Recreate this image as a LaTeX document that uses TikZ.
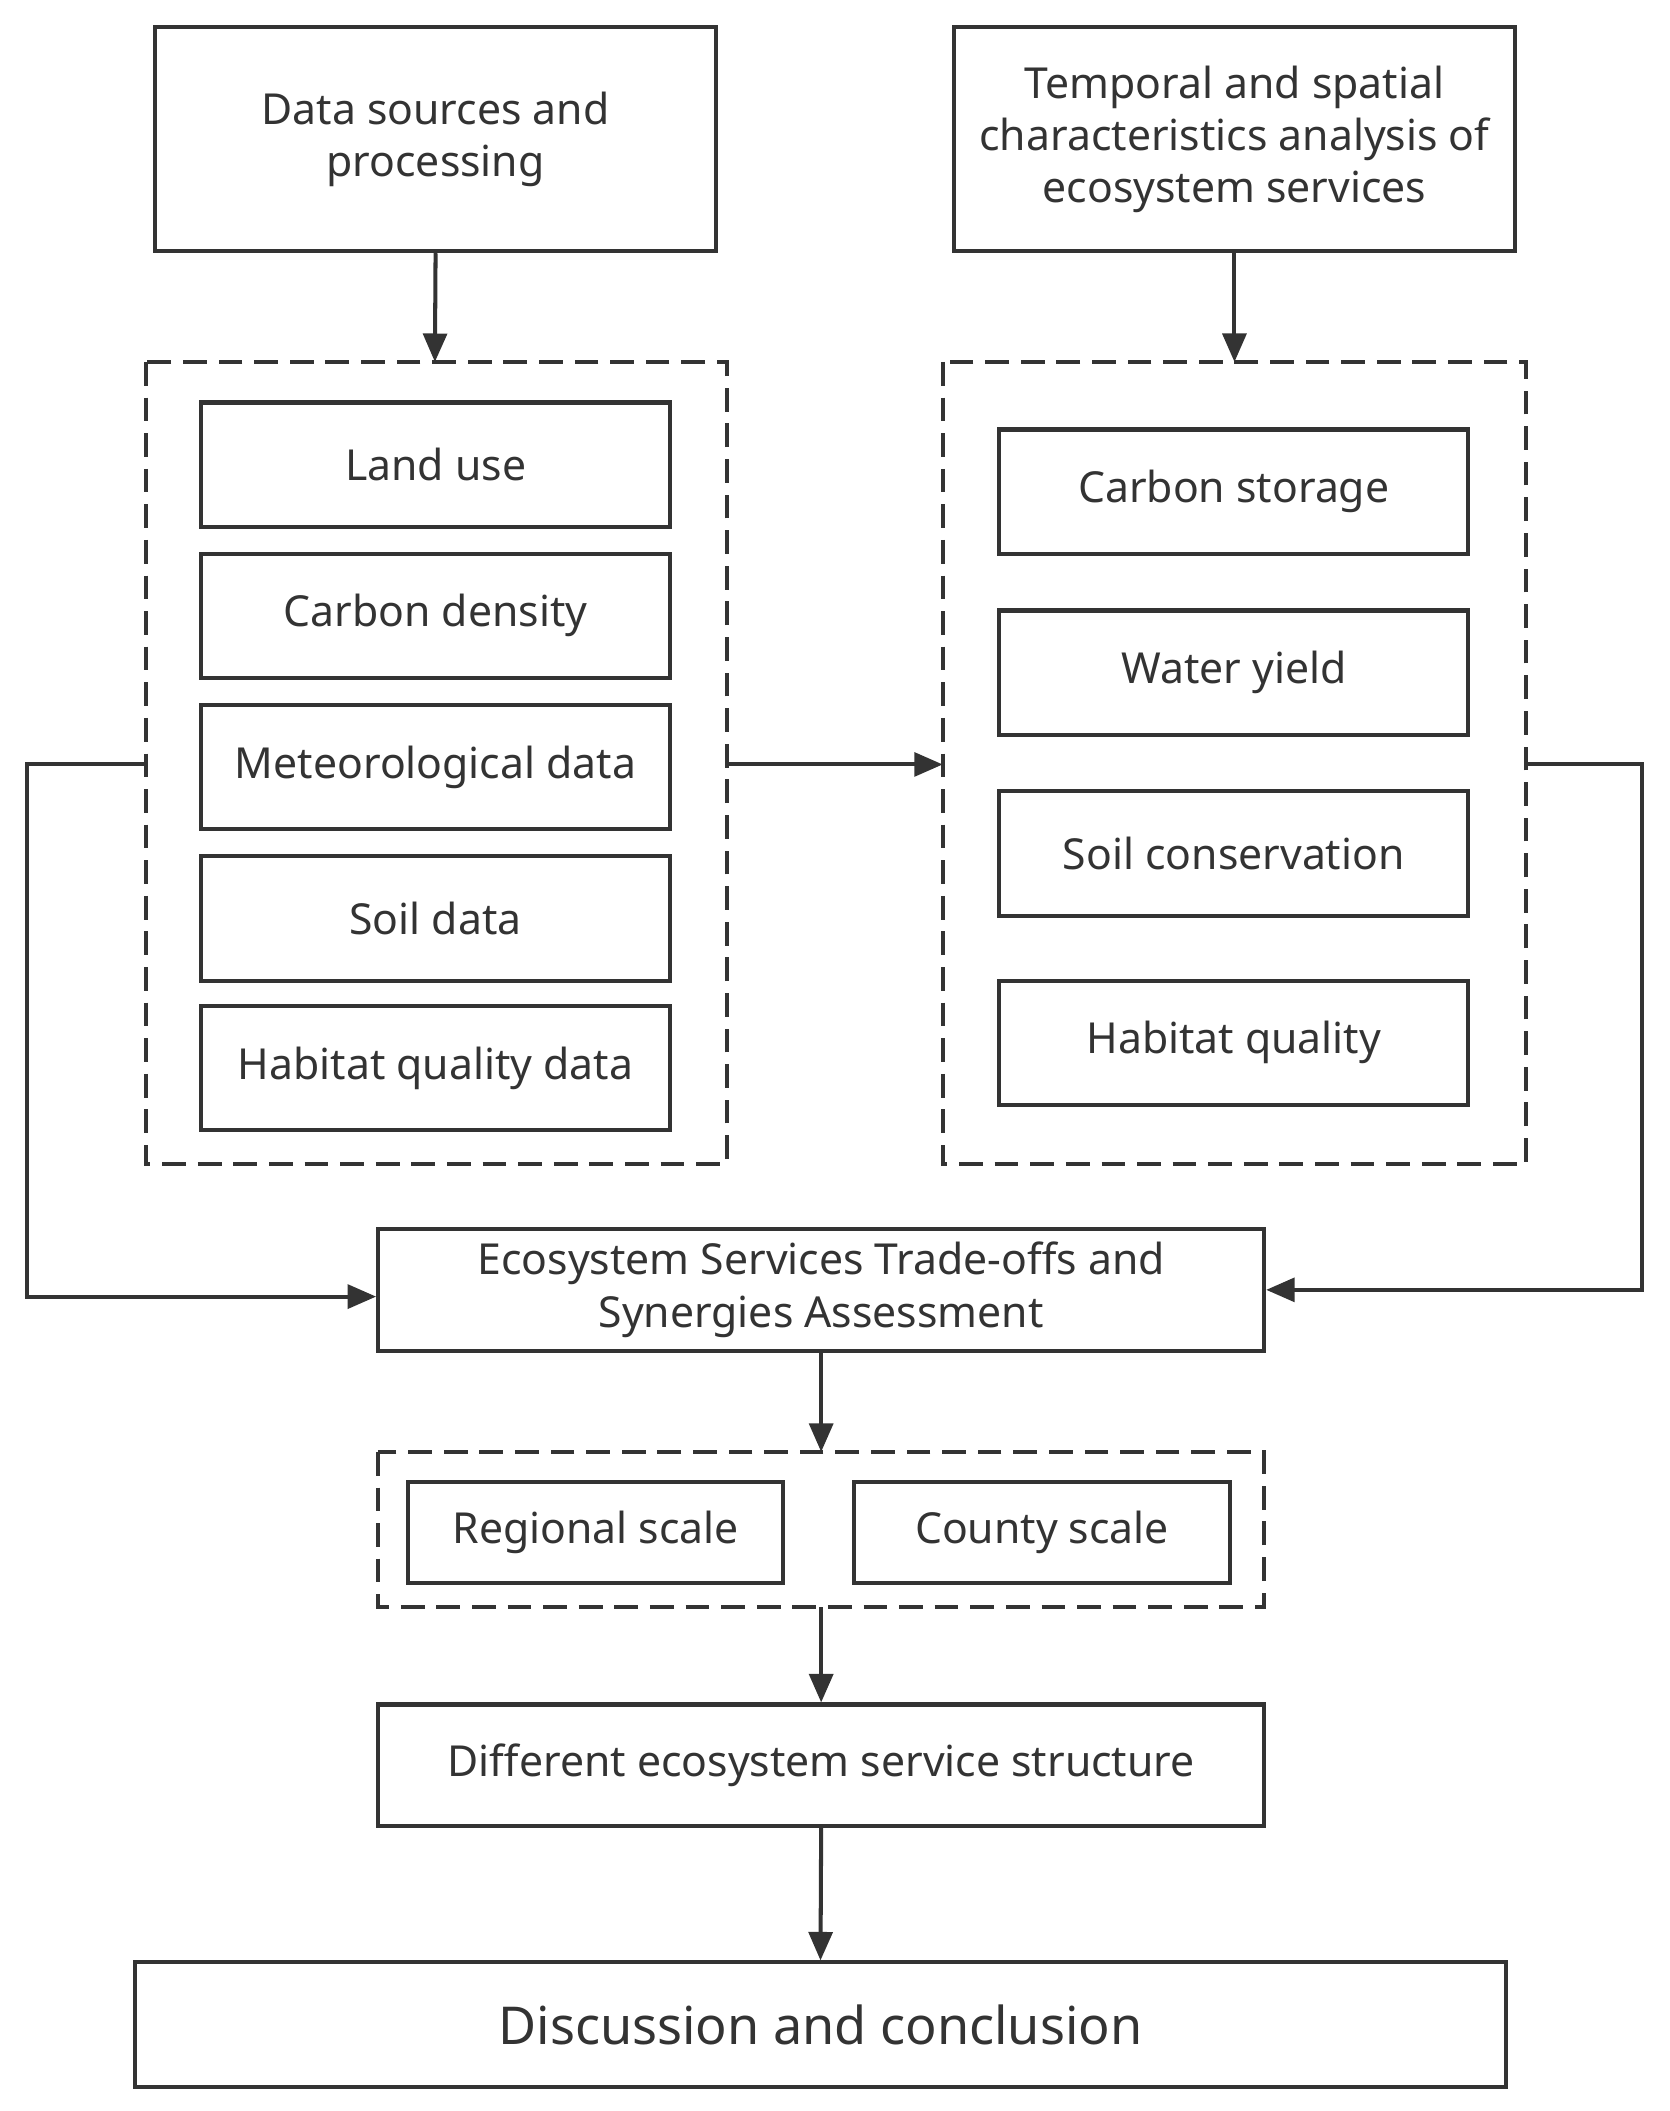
\documentclass[tikz,border=0pt]{standalone}
\usepackage{fontspec}
\setmainfont{Noto Sans}
\usetikzlibrary{arrows.meta}
\definecolor{ln}{HTML}{333333}
\definecolor{tx}{HTML}{333333}
\begin{document}
\begin{tikzpicture}[x=0.02cm,y=-0.02cm,
 box/.style={draw=ln,line width=1.7pt,inner sep=0pt,font=\fontsize{18}{22}\selectfont,text=tx,align=center},
 dbox/.style={draw=ln,line width=1.7pt,dash pattern=on 10pt off 5pt},
 arr/.style={draw=ln,line width=1.7pt,-{Triangle[length=12pt,width=10pt]}}]
\useasboundingbox (0,0) rectangle (1236,1563);
\fill[white] (0,0) rectangle (1236,1563);
\newcommand{\bx}[6]{\node[box,minimum width={(#4-#2)*0.02cm},minimum height={(#5-#3)*0.02cm}] (#1) at ({(#2+#4)/2},{(#3+#5)/2}) {#6};}
\bx{a}{115}{20}{530}{186}{Data sources and\\processing}
\bx{b}{706}{20}{1122}{186}{Temporal and spatial\\characteristics analysis of\\ecosystem services}
\draw[dbox] (108,268) rectangle (538,862);
\coordinate (d1t) at (322,268); \coordinate (d1r) at (538,566); \coordinate (d1l) at (108,566);
\draw[dbox] (698,268) rectangle (1130,862);
\coordinate (d2t) at (914,268); \coordinate (d2l) at (698,566); \coordinate (d2r) at (1130,566);
\bx{l1}{149}{298}{496}{390}{Land use}
\bx{l2}{149}{410}{496}{502}{Carbon density}
\bx{l3}{149}{522}{496}{614}{Meteorological data}
\bx{l4}{149}{634}{496}{726}{Soil data}
\bx{l5}{149}{745}{496}{837}{Habitat quality data}
\bx{r1}{740}{318}{1087}{410}{Carbon storage}
\bx{r2}{740}{452}{1087}{544}{Water yield}
\bx{r3}{740}{586}{1087}{678}{Soil conservation}
\bx{r4}{740}{726}{1087}{818}{Habitat quality}
\bx{es}{280}{910}{936}{1000}{Ecosystem Services Trade-offs and\\Synergies Assessment}
\draw[dbox] (280,1075) rectangle (936,1190);
\coordinate (d3t) at (608,1075); \coordinate (d3b) at (608,1190);
\bx{rs}{302}{1097}{580}{1172}{Regional scale}
\bx{cs}{632}{1097}{911}{1172}{County scale}
\bx{df}{280}{1262}{936}{1352}{Different ecosystem service structure}
\node[box,minimum width={1015*0.02cm},minimum height={92*0.02cm},font=\fontsize{22}{26}\selectfont] (fc) at (607.5,1499) {Discussion and conclusion};
\draw[arr] (a.south) -- (d1t);
\draw[arr] (b.south) -- (d2t);
\draw[arr] (d1r) -- (d2l);
\draw[arr] (d1l) -- (20,566) -- (20,960) -- (es.west |- 0,960);
\draw[arr] (d2r) -- (1216,566) -- (1216,955) -- (es.east |- 0,955);
\draw[arr] (es.south) -- (d3t);
\draw[arr] (d3b) -- (df.north);
\draw[arr] (df.south) -- (fc.north);
\end{tikzpicture}
\end{document}
